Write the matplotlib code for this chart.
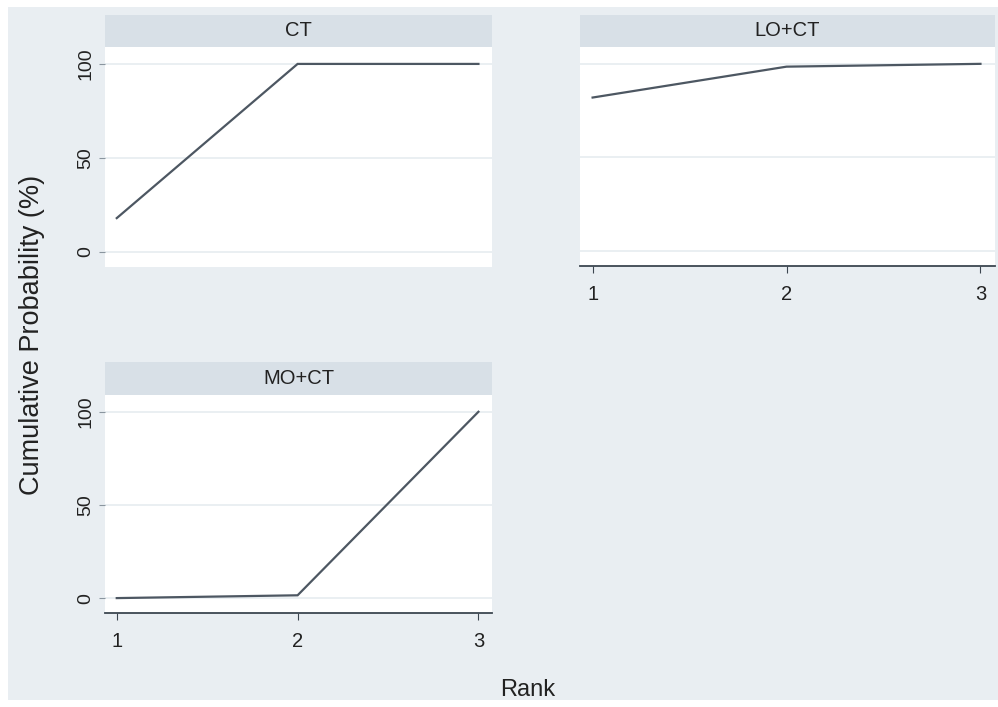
import matplotlib
matplotlib.use("Agg")
import matplotlib.pyplot as plt
from matplotlib.patches import Rectangle

ranks = [1, 2, 3]
treatments = ["CT", "LO+CT", "MO+CT"]
ct = [18, 100, 100]
lo_ct = [82, 98.5, 100]
mo_ct = [0, 1.5, 100]
y_ticks = [0, 50, 100]

W, H = 998, 707
plt.rcParams['font.family'] = ['Liberation Sans', 'DejaVu Sans']

BG = '#e9eef2'
STRIP = '#d8e0e7'
LINE = '#4d5762'
GRID = '#e6ecf0'


def box(l, t, r, b):
    return [l / W, 1 - b / H, (r - l) / W, (b - t) / H]


fig = plt.figure(figsize=(W / 100, H / 100), dpi=100)
fig.patch.set_facecolor('white')
fig.patches.append(Rectangle((8 / W, 1 - 700 / H), (W - 8) / W, 693 / H,
                             transform=fig.transFigure, facecolor=BG,
                             edgecolor='none', zorder=-5))

# panel boxes in pixels: (left, top, right, bottom), strip top
panels = [
    (treatments[0], ct, (105, 47, 492, 267), 15, True, False),
    (treatments[1], lo_ct, (580, 47, 995, 266), 15, False, True),
    (treatments[2], mo_ct, (105, 395, 492, 613), 362, True, True),
]

for name, vals, (l, t, r, b), st, show_y, show_x in panels:
    # strip with the panel name
    sax = fig.add_axes(box(l, st, r, t))
    sax.set_facecolor(STRIP)
    sax.set_xticks([])
    sax.set_yticks([])
    for s in sax.spines.values():
        s.set_visible(False)
    sax.text(0.5, 0.5, name, ha='center', va='center', fontsize=14.5,
             color='#222222', transform=sax.transAxes)

    ax = fig.add_axes(box(l, t, r, b))
    ax.set_facecolor('white')
    ax.plot(ranks, vals, color=LINE, lw=1.6, solid_joinstyle='miter')
    ax.set_xlim(0.935, 3.075)
    ax.set_ylim(-8, 109)
    ax.set_yticks(y_ticks)
    ax.grid(axis='y', color=GRID, lw=1.2)
    ax.set_axisbelow(True)
    for s in ['top', 'right', 'left']:
        ax.spines[s].set_visible(False)
    ax.spines['bottom'].set_color('#3c4650')
    ax.spines['bottom'].set_linewidth(1.3)
    ax.tick_params(axis='y', length=4.5, color='#8a959e', labelsize=14,
                   labelcolor='#222222', pad=3)
    for lab in ax.get_yticklabels():
        lab.set_rotation(90)
        lab.set_va('center')
    ax.set_xticks(ranks)
    ax.tick_params(axis='x', length=5, color='#3c4650', labelsize=14.5,
                   labelcolor='#222222', pad=9)
    if not show_y:
        ax.tick_params(axis='y', left=False, labelleft=False)
    if not show_x:
        ax.spines['bottom'].set_visible(False)
        ax.tick_params(axis='x', bottom=False, labelbottom=False)

fig.text(528 / W, 1 - 690 / H, 'Rank', ha='center', va='center',
         fontsize=17, color='#222222')
fig.text(32 / W, 1 - 335 / H, 'Cumulative Probability (%)', ha='center',
         va='center', rotation=90, fontsize=19.5, color='#222222')

fig.savefig('out.png', dpi=100)
